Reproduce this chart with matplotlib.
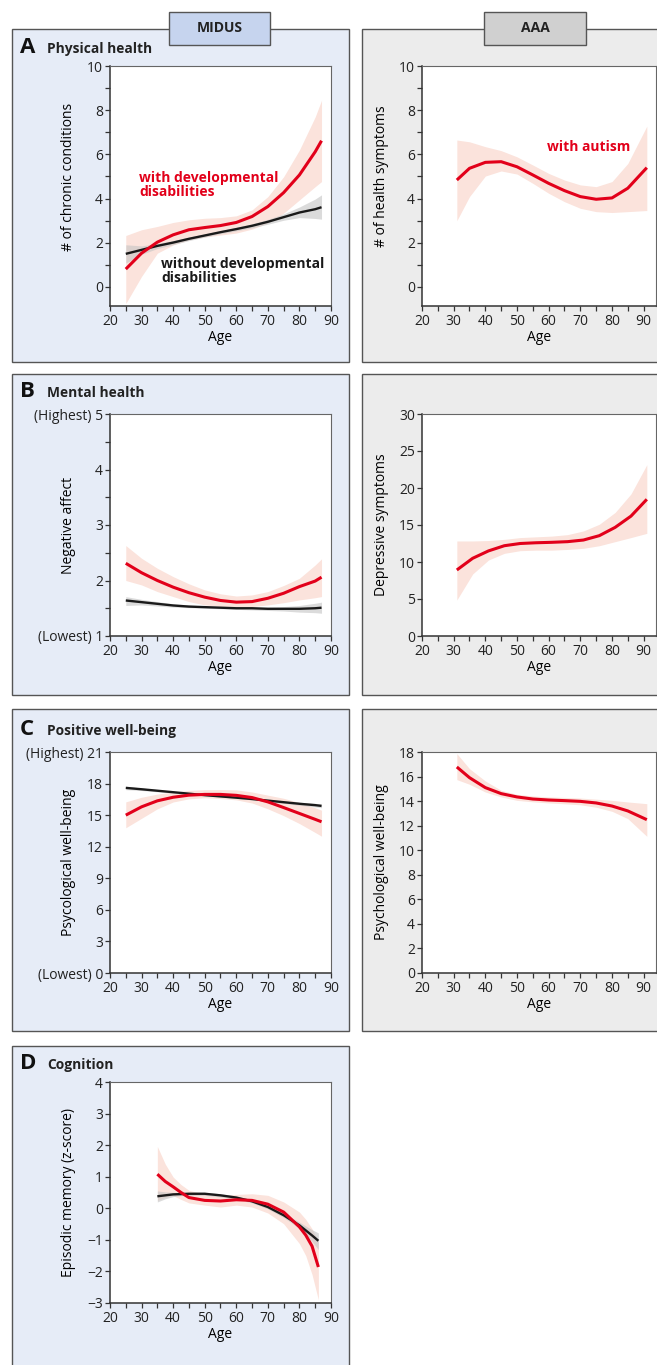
"""Age trajectories: MIDUS (with / without developmental disabilities) vs AAA (autism)."""

import matplotlib

matplotlib.use("Agg")

from matplotlib import pyplot as plt  # noqa: E402
from matplotlib.patches import Rectangle  # noqa: E402
from matplotlib.ticker import MultipleLocator  # noqa: E402

W, H = 657, 1365

RED = "#e2001a"
RED_BAND = "#fbe3dc"
BLACK = "#1a1a1a"
GREY_BAND = "#c4c4c4"
MIDUS_BG = "#e6ecf7"
MIDUS_TAB = "#c6d4ee"
AAA_BG = "#ececec"
AAA_TAB = "#d0d0d0"
EDGE = "#555555"

# ---- A: physical health -------------------------------------------------
a_age = [25, 30, 35, 40, 45, 50, 55, 60, 65, 70, 75, 80, 85, 87]
a_dd = [0.81, 1.53, 2.03, 2.36, 2.59, 2.69, 2.78, 2.92, 3.19, 3.64, 4.27, 5.07, 6.12, 6.62]
a_dd_hi = [2.33, 2.59, 2.74, 2.92, 3.04, 3.11, 3.14, 3.22, 3.49, 4.09, 4.99, 6.20, 7.70, 8.45]
a_dd_lo = [-0.75, 0.48, 1.53, 1.90, 2.13, 2.26, 2.35, 2.44, 2.62, 2.89, 3.34, 3.94, 4.54, 4.77]
a_nodd = [1.50, 1.68, 1.86, 2.01, 2.18, 2.33, 2.48, 2.62, 2.77, 2.95, 3.16, 3.37, 3.52, 3.61]
a_nodd_hi = [1.91, 1.86, 1.97, 2.10, 2.26, 2.40, 2.55, 2.70, 2.86, 3.06, 3.31, 3.62, 3.98, 4.17]
a_nodd_lo = [1.08, 1.48, 1.74, 1.92, 2.10, 2.26, 2.41, 2.54, 2.68, 2.84, 3.02, 3.14, 3.10, 3.07]

a_aaa_age = [31, 35, 40, 45, 50, 55, 60, 65, 70, 75, 80, 85, 91]
a_aut = [4.84, 5.37, 5.64, 5.67, 5.44, 5.07, 4.69, 4.36, 4.09, 3.97, 4.03, 4.47, 5.40]
a_aut_hi = [6.65, 6.57, 6.35, 6.17, 5.89, 5.52, 5.14, 4.84, 4.62, 4.54, 4.77, 5.59, 7.28]
a_aut_lo = [3.00, 4.09, 5.02, 5.25, 5.11, 4.69, 4.24, 3.86, 3.56, 3.41, 3.37, 3.41, 3.46]

# ---- B: mental health ---------------------------------------------------
b_age = [25, 30, 35, 40, 45, 50, 55, 60, 65, 70, 75, 80, 85, 87]
b_dd = [2.31, 2.14, 2.00, 1.88, 1.78, 1.70, 1.64, 1.61, 1.62, 1.68, 1.77, 1.89, 1.99, 2.06]
b_dd_hi = [2.63, 2.40, 2.22, 2.07, 1.94, 1.83, 1.76, 1.72, 1.74, 1.80, 1.91, 2.04, 2.28, 2.39]
b_dd_lo = [2.00, 1.92, 1.80, 1.71, 1.62, 1.56, 1.53, 1.52, 1.53, 1.56, 1.60, 1.65, 1.69, 1.71]
b_nodd = [1.64, 1.61, 1.58, 1.55, 1.53, 1.52, 1.51, 1.50, 1.50, 1.49, 1.49, 1.49, 1.50, 1.51]
b_nodd_hi = [1.71, 1.66, 1.62, 1.58, 1.56, 1.54, 1.53, 1.52, 1.52, 1.52, 1.53, 1.55, 1.59, 1.61]
b_nodd_lo = [1.55, 1.56, 1.54, 1.52, 1.51, 1.50, 1.49, 1.48, 1.47, 1.46, 1.45, 1.43, 1.42, 1.41]

b_aaa_age = [31, 36, 41, 46, 51, 56, 61, 66, 71, 76, 81, 86, 91]
b_aut = [8.92, 10.5, 11.5, 12.2, 12.5, 12.6, 12.66, 12.75, 12.97, 13.56, 14.68, 16.2, 18.47]
b_aut_hi = [12.84, 12.84, 12.9, 13.06, 13.3, 13.4, 13.5, 13.7, 14.2, 15.1, 16.7, 19.2, 23.15]
b_aut_lo = [4.86, 8.38, 10.27, 11.17, 11.53, 11.6, 11.6, 11.7, 11.85, 12.2, 12.75, 13.3, 13.87]

# ---- C: positive well-being ---------------------------------------------
c_age = [25, 30, 35, 40, 45, 50, 55, 60, 65, 70, 75, 80, 85, 87]
c_dd = [15.0, 15.79, 16.36, 16.70, 16.90, 16.97, 16.97, 16.88, 16.67, 16.26, 15.72, 15.16, 14.60, 14.37]
c_dd_hi = [16.26, 16.70, 17.00, 17.20, 17.35, 17.42, 17.43, 17.40, 17.20, 16.90, 16.60, 16.20, 15.70, 15.47]
c_dd_lo = [13.80, 14.70, 15.60, 16.25, 16.55, 16.65, 16.58, 16.45, 16.15, 15.60, 14.95, 14.20, 13.35, 13.00]
c_nodd = [17.59, 17.46, 17.32, 17.18, 17.04, 16.90, 16.78, 16.66, 16.53, 16.38, 16.23, 16.08, 15.95, 15.88]
c_nodd_hi = [17.76, 17.58, 17.42, 17.26, 17.11, 16.96, 16.84, 16.72, 16.60, 16.47, 16.34, 16.22, 16.12, 16.06]
c_nodd_lo = [17.42, 17.34, 17.22, 17.10, 16.97, 16.84, 16.72, 16.60, 16.46, 16.29, 16.12, 15.94, 15.78, 15.70]

c_aaa_age = [31, 35, 40, 45, 50, 55, 60, 65, 70, 75, 80, 85, 91]
c_aut = [16.78, 15.91, 15.10, 14.61, 14.34, 14.17, 14.09, 14.04, 13.98, 13.85, 13.60, 13.20, 12.49]
c_aut_hi = [17.87, 16.64, 15.64, 14.88, 14.55, 14.42, 14.34, 14.30, 14.25, 14.16, 14.06, 13.93, 13.79]
c_aut_lo = [15.75, 15.37, 14.74, 14.34, 14.06, 13.94, 13.85, 13.78, 13.70, 13.50, 13.17, 12.57, 11.13]

# ---- D: cognition ---------------------------------------------------------
d_age = [35, 37.5, 40, 42.5, 45, 50, 55, 60, 65, 70, 75, 80, 82, 84, 86]
d_dd = [1.08, 0.85, 0.68, 0.50, 0.34, 0.25, 0.23, 0.27, 0.25, 0.13, -0.12, -0.59, -0.85, -1.20, -1.86]
d_dd_hi = [1.96, 1.40, 0.99, 0.75, 0.57, 0.44, 0.41, 0.44, 0.46, 0.41, 0.20, -0.12, -0.35, -0.65, -1.05]
d_dd_lo = [0.25, 0.35, 0.40, 0.28, 0.17, 0.10, 0.04, 0.10, 0.04, -0.15, -0.49, -1.12, -1.50, -2.10, -2.90]
d_nodd = [0.38, 0.41, 0.44, 0.45, 0.46, 0.46, 0.41, 0.34, 0.22, 0.04, -0.22, -0.54, -0.70, -0.86, -1.03]
d_nodd_hi = [0.55, 0.52, 0.50, 0.50, 0.51, 0.51, 0.46, 0.39, 0.27, 0.10, -0.15, -0.44, -0.56, -0.68, -0.78]
d_nodd_lo = [0.20, 0.30, 0.37, 0.40, 0.41, 0.41, 0.36, 0.29, 0.17, -0.02, -0.29, -0.64, -0.84, -1.05, -1.31]

plt.rcParams.update(
    {
        "font.family": ["Open Sans", "DejaVu Sans"],
        "font.size": 10,
        "axes.edgecolor": "#333333",
        "xtick.color": "#333333",
        "ytick.color": "#333333",
        "xtick.labelcolor": "#222222",
        "ytick.labelcolor": "#222222",
    }
)

fig = plt.figure(figsize=(W / 100, H / 100), dpi=100, facecolor="white")


def rect(x0, y0, x1, y1):
    """Pixel box (top-left origin) to figure fraction rectangle."""
    return [x0 / W, 1 - y1 / H, (x1 - x0) / W, (y1 - y0) / H]


def panel_box(x0, y0, x1, y1, color):
    fig.add_artist(
        Rectangle(
            (x0 / W, 1 - y1 / H), (x1 - x0) / W, (y1 - y0) / H,
            transform=fig.transFigure, facecolor=color, edgecolor=EDGE,
            linewidth=1.0, zorder=0,
        )
    )


def tab(x0, y0, x1, y1, color, label):
    fig.add_artist(
        Rectangle(
            (x0 / W, 1 - y1 / H), (x1 - x0) / W, (y1 - y0) / H,
            transform=fig.transFigure, facecolor=color, edgecolor=EDGE,
            linewidth=1.0, zorder=1,
        )
    )
    fig.text((x0 + x1) / 2 / W, 1 - (y0 + y1) / 2 / H, label, ha="center", va="center",
             fontsize=10, fontweight="bold", color="#222222", zorder=2)


def panel_title(y, letter, title):
    fig.text(20 / W, 1 - y / H, letter, fontsize=16, fontweight="bold", va="baseline", color="#111111")
    fig.text(47 / W, 1 - y / H, title, fontsize=9.9, fontweight="bold", va="baseline", color="#222222")


rows = {"A": (29, 362), "B": (374, 695), "C": (709, 1031), "D": (1046, 1380)}
for key, (top, bottom) in rows.items():
    panel_box(12, top, 349, bottom, MIDUS_BG)
    if key != "D":
        panel_box(362, top, 680, bottom, AAA_BG)

tab(169, 12, 270, 45, MIDUS_TAB, "MIDUS")
tab(484, 12, 586, 45, AAA_TAB, "AAA")

panel_title(53, "A", "Physical health")
panel_title(397, "B", "Mental health")
panel_title(735, "C", "Positive well-being")
panel_title(1069, "D", "Cognition")

LX0, LX1 = 110, 331
RX0, RX1 = 422, 656
RXMAX = 93.9
LABEL_RIGHT = {LX0: 76, RX0: 389}


def make_axes(x0, x1, y0, y1, xmax):
    ax = fig.add_axes(rect(x0, y0, x1, y1))
    ax.set_facecolor("white")
    ax.set_xlim(20, xmax)
    ax.set_xticks(range(20, 91, 10))
    ax.xaxis.set_minor_locator(MultipleLocator(5))
    ax.tick_params(which="both", direction="out", length=3.6, width=0.9)
    ax.tick_params(axis="x", which="both", pad=2.5)
    ax.tick_params(axis="y", which="both", pad=1.5)
    ax.tick_params(labelsize=10)
    for side in ("left", "bottom"):
        ax.spines[side].set_linewidth(1.1)
        ax.spines[side].set_color("#333333")
    for side in ("top", "right"):
        ax.spines[side].set_linewidth(0.8)
        ax.spines[side].set_color("#666666")
    ax.set_xlabel("Age", labelpad=0.5, fontsize=10)
    return ax


def set_ylabel(ax, text, x0, x1, yfrac=0.5):
    ax.set_ylabel(text, fontsize=10)
    ax.yaxis.set_label_coords((LABEL_RIGHT[x0] - x0) / (x1 - x0), yfrac)


def draw_pair(ax, age, dd, dd_lo, dd_hi, nodd=None, nodd_lo=None, nodd_hi=None):
    ax.fill_between(age, dd_lo, dd_hi, color=RED_BAND, linewidth=0, zorder=1)
    if nodd is not None:
        ax.fill_between(age, nodd_lo, nodd_hi, color=GREY_BAND, alpha=0.6, linewidth=0, zorder=2)
        ax.plot(age, nodd, color=BLACK, linewidth=1.7, zorder=3, solid_capstyle="butt")
    ax.plot(age, dd, color=RED, linewidth=2.2, zorder=4, solid_capstyle="butt")


A_YMIN = -0.86
a_label_frac = (5 - A_YMIN) / (10 - A_YMIN)

# A left
ax = make_axes(LX0, LX1, 66, 306, 90)
draw_pair(ax, a_age, a_dd, a_dd_lo, a_dd_hi, a_nodd, a_nodd_lo, a_nodd_hi)
ax.set_ylim(A_YMIN, 10)
ax.set_yticks(range(0, 11, 2))
ax.yaxis.set_minor_locator(MultipleLocator(1))
set_ylabel(ax, "# of chronic conditions", LX0, LX1, a_label_frac)
ax.text(29.3, 4.6, "with developmental\ndisabilities", color=RED, fontsize=10, fontweight="bold",
        va="center", ha="left", linespacing=1.0, zorder=5)
ax.text(36.2, 0.72, "without developmental\ndisabilities", color="#1a1a1a", fontsize=10,
        fontweight="bold", va="center", ha="left", linespacing=1.0, zorder=5)

# A right
ax = make_axes(RX0, RX1, 66, 306, RXMAX)
draw_pair(ax, a_aaa_age, a_aut, a_aut_lo, a_aut_hi)
ax.set_ylim(A_YMIN, 10)
ax.set_yticks(range(0, 11, 2))
ax.yaxis.set_minor_locator(MultipleLocator(1))
set_ylabel(ax, "# of health symptoms", RX0, RX1, a_label_frac)
ax.text(59.6, 6.33, "with autism", color=RED, fontsize=10, fontweight="bold", va="center",
        ha="left", zorder=5)

# B left
ax = make_axes(LX0, LX1, 414, 636, 90)
draw_pair(ax, b_age, b_dd, b_dd_lo, b_dd_hi, b_nodd, b_nodd_lo, b_nodd_hi)
ax.set_ylim(1, 5)
ax.set_yticks([1, 2, 3, 4, 5])
ax.set_yticklabels(["(Lowest) 1", "2", "3", "4", "(Highest) 5"])
ax.yaxis.set_minor_locator(MultipleLocator(0.5))
set_ylabel(ax, "Negative affect", LX0, LX1)

# B right
ax = make_axes(RX0, RX1, 414, 636, RXMAX)
draw_pair(ax, b_aaa_age, b_aut, b_aut_lo, b_aut_hi)
ax.set_ylim(0, 30)
ax.set_yticks(range(0, 31, 5))
set_ylabel(ax, "Depressive symptoms", RX0, RX1)

# C left
ax = make_axes(LX0, LX1, 752, 973, 90)
draw_pair(ax, c_age, c_dd, c_dd_lo, c_dd_hi, c_nodd, c_nodd_lo, c_nodd_hi)
ax.set_ylim(0, 21)
ax.set_yticks(range(0, 22, 3))
ax.set_yticklabels(["(Lowest) 0", "3", "6", "9", "12", "15", "18", "(Highest) 21"])
set_ylabel(ax, "Psycological well-being", LX0, LX1)

# C right
ax = make_axes(RX0, RX1, 752, 973, RXMAX)
draw_pair(ax, c_aaa_age, c_aut, c_aut_lo, c_aut_hi)
ax.set_ylim(0, 18)
ax.set_yticks(range(0, 19, 2))
set_ylabel(ax, "Psychological well-being", RX0, RX1)

# D left
ax = make_axes(LX0, LX1, 1082, 1303, 90)
draw_pair(ax, d_age, d_dd, d_dd_lo, d_dd_hi, d_nodd, d_nodd_lo, d_nodd_hi)
ax.set_ylim(-3, 4)
ax.set_yticks(range(-3, 5))
set_ylabel(ax, "Episodic memory (z-score)", LX0, LX1)

fig.savefig("out.png", dpi=100, facecolor=fig.get_facecolor())
plt.close(fig)
